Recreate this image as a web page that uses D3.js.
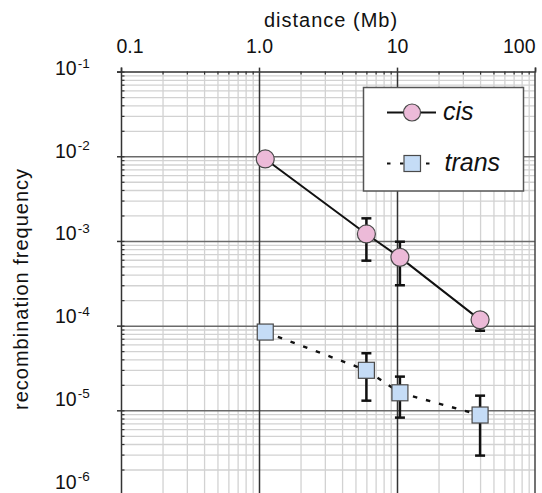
<!DOCTYPE html>
<html><head><meta charset="utf-8">
<script src="https://cdn.jsdelivr.net/npm/d3@7"></script>
<style>
html,body{margin:0;padding:0;background:#fff;}
svg{display:block;font-family:"Liberation Sans",Arial,Helvetica,sans-serif;}
</style></head><body>
<svg id="chart" width="542" height="493"></svg>
<script>
const xTickValues = [0.1, 1, 10, 100];
const xTickLabels = ["0.1", "1.0", "10", "100"];
const yTickValues = [1e-1, 1e-2, 1e-3, 1e-4, 1e-5, 1e-6];
const yTickExponents = ["-1", "-2", "-3", "-4", "-5", "-6"];
const seriesNames = ["cis", "trans"];
const distance = [1.11, 6.0, 10.5, 40];
const cisFreq = [0.0093, 1.21e-3, 6.4e-4, 1.17e-4];
const cisLow = [null, 5.85e-4, 3.0e-4, 8.7e-5];
const cisHigh = [null, 1.85e-3, 9.8e-4, 1.38e-4];
const transFreq = [8.4e-5, 2.97e-5, 1.61e-5, 8.8e-6];
const transLow = [null, 1.30e-5, 8.2e-6, 2.92e-6];
const transHigh = [null, 4.72e-5, 2.50e-5, 1.49e-5];
const xTitle = "distance (Mb)";
const yTitle = "recombination frequency";

(function () {
const svg = d3.select("#chart");
const pL = 121, pR = 535, pT = 71.6, pB = 495;
const x = d3.scaleLog().domain([0.1, 100]).range([pL, pR]);
const y = d3.scaleLog().domain([1e-1, 1e-6]).range([pT, pB]);
const yLab = d3.scaleLog().domain([1e-1, 1e-6]).range([75, 488.5]);

const isMajor = v => Math.abs(Math.log10(v) - Math.round(Math.log10(v))) < 1e-9;
const xMinor = x.ticks().filter(v => !isMajor(v));
const yMinor = y.ticks().filter(v => !isMajor(v));
const xMajorInner = xTickValues.slice(1, -1);
const yMajorInner = yTickValues.slice(1);

function grid(g) { g.select(".domain").remove(); }

// minor grid
svg.append("g").attr("transform", `translate(0,${pT})`)
  .call(d3.axisBottom(x).tickValues(xMinor).tickSize(pB - pT).tickFormat(""))
  .call(grid).selectAll("line").attr("stroke", "#d2d2d2").attr("stroke-width", 1.3);
svg.append("g").attr("transform", `translate(${pL},0)`)
  .call(d3.axisRight(y).tickValues(yMinor).tickSize(pR - pL).tickFormat(""))
  .call(grid).selectAll("line").attr("stroke", "#d2d2d2").attr("stroke-width", 1.3);

// major grid
svg.append("g").attr("transform", `translate(${pL},0)`)
  .call(d3.axisRight(y).tickValues(yMajorInner).tickSize(pR - pL).tickFormat(""))
  .call(grid).selectAll("line").attr("stroke", "#6a6a6a").attr("stroke-width", 1.5);
svg.append("g").attr("transform", `translate(0,${pT})`)
  .call(d3.axisBottom(x).tickValues(xMajorInner).tickSize(pB - pT).tickFormat(""))
  .call(grid).selectAll("line").attr("stroke", "#333").attr("stroke-width", 1.5);

// top axis
const topAx = svg.append("g").attr("transform", `translate(0,${pT})`)
  .call(d3.axisTop(x).tickValues(xTickValues).tickSize(4).tickFormat((d, i) => xTickLabels[i]));
topAx.select(".domain").attr("stroke", "#333").attr("stroke-width", 1.5);
topAx.selectAll("line").attr("stroke", "#333").attr("stroke-width", 1.5);
topAx.selectAll("text").attr("font-size", 19.5).attr("fill", "#111")
  .attr("y", -18.3).attr("dy", 0)
  .attr("text-anchor", (d, i) => i === 0 ? "start" : (i === xTickValues.length - 1 ? "end" : "middle"))
  .attr("x", (d, i) => i === 0 ? -5 : 0)
  .attr("font-family", "Liberation Sans, Arial, sans-serif");
svg.append("g").attr("transform", `translate(0,${pT})`)
  .call(d3.axisTop(x).tickValues(xMinor).tickSize(-3).tickFormat(""))
  .call(g => g.select(".domain").remove())
  .selectAll("line").attr("stroke", "#333").attr("stroke-width", 1.2);

// left axis
const leftAx = svg.append("g").attr("transform", `translate(${pL},0)`)
  .call(d3.axisLeft(y).tickValues(yTickValues).tickSize(4).tickFormat(""));
leftAx.select(".domain").attr("stroke", "#333").attr("stroke-width", 1.5);
leftAx.selectAll("line").attr("stroke", "#333").attr("stroke-width", 1.5);
svg.append("g").attr("transform", `translate(${pL},0)`)
  .call(d3.axisLeft(y).tickValues(yMinor.concat(yTickValues)).tickSize(-3.5).tickFormat(""))
  .call(g => g.select(".domain").remove())
  .selectAll("line").attr("stroke", "#333").attr("stroke-width", 1.2);

// right border
svg.append("line").attr("x1", pR).attr("x2", pR).attr("y1", pT).attr("y2", pB)
  .attr("stroke", "#444").attr("stroke-width", 1.5);

// y tick labels
const yl = svg.append("g").selectAll("text").data(yTickValues).join("text")
  .attr("x", 55).attr("y", d => yLab(d)).attr("fill", "#111");
yl.append("tspan").attr("font-size", 19.5).text("10");
yl.append("tspan").attr("font-size", 13.5).attr("dx", 1).attr("dy", -7.5)
  .text((d, i) => yTickExponents[i]);

// titles
svg.append("text").attr("x", 331).attr("y", 27).attr("text-anchor", "middle")
  .attr("font-size", 20).attr("letter-spacing", "1px").attr("fill", "#111").text(xTitle);
svg.append("text").attr("transform", "translate(28,289) rotate(-90)").attr("text-anchor", "middle")
  .attr("font-size", 20).attr("letter-spacing", "1px").attr("fill", "#111").text(yTitle);

// data
const cisData = distance.map((d, i) => ({x: d, y: cisFreq[i], lo: cisLow[i], hi: cisHigh[i]}));
const transData = distance.map((d, i) => ({x: d, y: transFreq[i], lo: transLow[i], hi: transHigh[i]}));
const line = d3.line().x(d => x(d.x)).y(d => y(d.y));

svg.append("path").datum(cisData).attr("d", line).attr("fill", "none")
  .attr("stroke", "#111").attr("stroke-width", 2);
svg.append("path").datum(transData).attr("d", line).attr("fill", "none")
  .attr("stroke", "#111").attr("stroke-width", 2.4).attr("stroke-dasharray", "4.5,9");

function errorBars(data) {
  const g = svg.append("g").attr("stroke", "#111").attr("stroke-width", 2.5);
  const e = data.filter(d => d.lo !== null);
  g.selectAll(".v").data(e).join("line").attr("class", "v").attr("x1", d => x(d.x)).attr("x2", d => x(d.x))
    .attr("y1", d => y(d.lo)).attr("y2", d => y(d.hi));
  g.selectAll(".t").data(e).join("line").attr("class", "t").attr("x1", d => x(d.x) - 5).attr("x2", d => x(d.x) + 5)
    .attr("y1", d => y(d.hi)).attr("y2", d => y(d.hi));
  g.selectAll(".b").data(e).join("line").attr("class", "b").attr("x1", d => x(d.x) - 5).attr("x2", d => x(d.x) + 5)
    .attr("y1", d => y(d.lo)).attr("y2", d => y(d.lo));
}
errorBars(cisData);
errorBars(transData);

const pink = "#ecbad8", blue = "#c5dcf6", edge = "#4a4a4a";
svg.append("g").selectAll("circle").data(cisData).join("circle")
  .attr("cx", d => x(d.x)).attr("cy", d => y(d.y)).attr("r", 9)
  .attr("fill", pink).attr("stroke", edge).attr("stroke-width", 1.2);
svg.append("g").selectAll("rect").data(transData).join("rect")
  .attr("x", d => x(d.x) - 8).attr("y", d => y(d.y) - 8).attr("width", 16).attr("height", 16)
  .attr("fill", blue).attr("stroke", edge).attr("stroke-width", 1.2);

// legend
const lg = svg.append("g");
lg.append("rect").attr("x", 363.5).attr("y", 87.5).attr("width", 160).attr("height", 103.5)
  .attr("fill", "#fff").attr("stroke", "#555").attr("stroke-width", 1.5);
lg.append("line").attr("x1", 387).attr("x2", 436).attr("y1", 112.5).attr("y2", 112.5)
  .attr("stroke", "#111").attr("stroke-width", 2);
lg.append("circle").attr("cx", 412).attr("cy", 112.5).attr("r", 8.5)
  .attr("fill", pink).attr("stroke", edge).attr("stroke-width", 1.2);
lg.append("line").attr("x1", 387).attr("x2", 432).attr("y1", 163.5).attr("y2", 163.5)
  .attr("stroke", "#111").attr("stroke-width", 2.2).attr("stroke-dasharray", "3.5,9.5");
lg.append("rect").attr("x", 404).attr("y", 155.5).attr("width", 16.5).attr("height", 16)
  .attr("fill", blue).attr("stroke", edge).attr("stroke-width", 1.2);
lg.selectAll("text").data(seriesNames).join("text")
  .attr("x", (d, i) => i === 0 ? 443 : 444.5).attr("y", (d, i) => i === 0 ? 119.5 : 171)
  .attr("font-size", 25).attr("font-style", "italic").attr("fill", "#111").text(d => d);
})();
</script>
</body></html>
